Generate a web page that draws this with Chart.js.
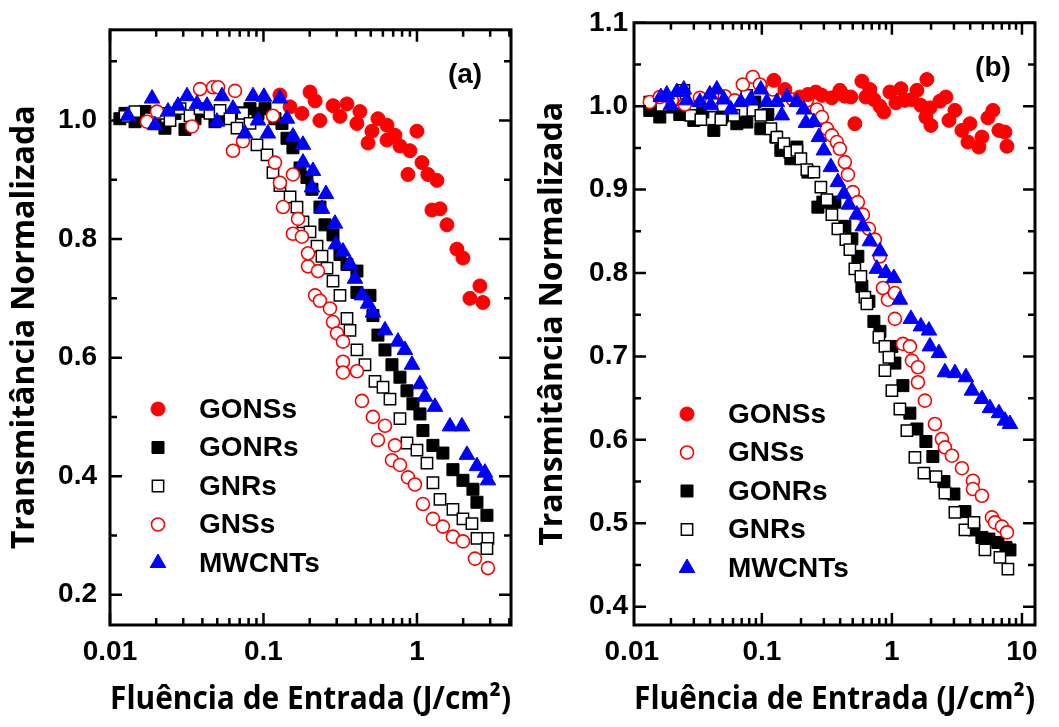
<!DOCTYPE html>
<html>
<head>
<meta charset="utf-8">
<script src="https://cdn.jsdelivr.net/npm/chart.js@4.4.1/dist/chart.umd.min.js"></script>
<style>
  body { margin: 0; background: #fff; }
  .panel { position: absolute; top: 0; height: 727px; }
</style>
</head>
<body>
<div class="panel" style="left:0;width:530px"><canvas id="chartA" width="530" height="727"></canvas></div>
<div class="panel" style="left:530px;width:529px"><canvas id="chartB" width="529" height="727"></canvas></div>
<script>
// painel (a): [fluência, transmitância]
const aGONSs = [[0.128,1.043],[0.149,1.023],[0.178,1.012],[0.201,1.048],[0.217,1.033],[0.233,1.0],[0.284,1.025],[0.315,1.007],[0.35,1.028],[0.406,0.995],[0.425,1.015],[0.48,0.962],[0.509,0.982],[0.557,1.003],[0.638,0.992],[0.638,0.967],[0.719,0.975],[0.775,0.957],[0.874,0.909],[0.9,0.949],[1.0,0.982],[1.078,0.929],[1.179,0.909],[1.252,0.849],[1.35,0.899],[1.413,0.851],[1.568,0.824],[1.822,0.783],[1.994,0.768],[2.214,0.7],[2.572,0.721],[2.69,0.693]];
const aGONRs = [[0.0116,1.003],[0.01253,1.012],[0.01456,0.998],[0.0169,1.015],[0.01964,0.995],[0.0228,0.987],[0.0265,1.012],[0.0308,0.985],[0.0358,1.003],[0.0416,1.015],[0.0483,0.998],[0.0561,1.007],[0.0703,1.013],[0.0817,1.02],[0.0921,1.012],[0.1023,1.02],[0.1188,1.003],[0.132,0.995],[0.1423,0.97],[0.1556,0.954],[0.173,0.92],[0.1919,0.904],[0.207,0.884],[0.2334,0.854],[0.2516,0.824],[0.2837,0.807],[0.315,0.774],[0.35,0.757],[0.4064,0.746],[0.4064,0.71],[0.494,0.705],[0.5167,0.671],[0.557,0.638],[0.619,0.613],[0.6874,0.588],[0.775,0.567],[0.861,0.544],[0.9418,0.522],[1.046,0.505],[1.094,0.477],[1.271,0.452],[1.476,0.439],[1.716,0.411],[1.994,0.393],[2.316,0.378],[2.46,0.356],[2.857,0.334]];
const aGNRs = [[0.01253,1.007],[0.01456,1.015],[0.01823,1.003],[0.0212,1.012],[0.0246,1.0],[0.0286,1.02],[0.0332,1.008],[0.0386,1.02],[0.0448,1.012],[0.0521,1.017],[0.0605,1.003],[0.0672,0.987],[0.0735,1.012],[0.0817,0.995],[0.0907,0.959],[0.1054,0.942],[0.1153,0.912],[0.128,0.89],[0.149,0.871],[0.1653,0.854],[0.1808,0.829],[0.201,0.812],[0.2233,0.788],[0.2405,0.771],[0.2594,0.751],[0.2837,0.729],[0.315,0.705],[0.35,0.666],[0.3662,0.646],[0.4064,0.613],[0.4585,0.588],[0.5325,0.56],[0.601,0.55],[0.6673,0.53],[0.775,0.497],[0.861,0.456],[1.0,0.444],[1.162,0.422],[1.271,0.389],[1.413,0.361],[1.716,0.344],[1.994,0.328],[2.282,0.32],[2.46,0.295],[2.901,0.295],[2.857,0.278]];
const aGNSs = [[0.01741,0.998],[0.02024,1.015],[0.0342,0.99],[0.0386,1.053],[0.0469,1.056],[0.0506,1.056],[0.0633,0.949],[0.0652,1.05],[0.0735,0.965],[0.1153,1.008],[0.1188,0.929],[0.128,0.895],[0.134,0.854],[0.1556,0.909],[0.1556,0.809],[0.1679,0.834],[0.178,0.804],[0.195,0.776],[0.195,0.754],[0.217,0.705],[0.2265,0.746],[0.2334,0.696],[0.2711,0.683],[0.2837,0.66],[0.3013,0.641],[0.3297,0.627],[0.3297,0.593],[0.3297,0.575],[0.4064,0.577],[0.4382,0.527],[0.5167,0.5],[0.557,0.461],[0.619,0.485],[0.6874,0.427],[0.719,0.452],[0.775,0.419],[0.874,0.398],[0.97,0.386],[1.094,0.353],[1.271,0.328],[1.476,0.315],[1.716,0.298],[1.994,0.29],[2.387,0.261],[2.901,0.245]];
const aMWCNTs = [[0.0131,1.008],[0.01879,1.037],[0.01964,0.992],[0.02387,1.015],[0.02773,1.025],[0.03176,1.041],[0.03689,1.028],[0.04285,1.025],[0.04977,0.998],[0.05366,1.041],[0.0633,1.02],[0.0757,0.978],[0.0855,1.041],[0.0921,1.0],[0.1007,1.04],[0.1069,0.978],[0.128,1.037],[0.1423,1.003],[0.1556,0.973],[0.1808,0.959],[0.1808,0.929],[0.2101,0.915],[0.207,0.887],[0.2554,0.876],[0.2405,0.851],[0.2923,0.826],[0.2966,0.791],[0.3297,0.779],[0.3662,0.758],[0.3945,0.733],[0.4382,0.705],[0.48,0.691],[0.5167,0.676],[0.619,0.646],[0.752,0.627],[0.835,0.613],[0.928,0.588],[1.046,0.555],[1.127,0.534],[1.31,0.517],[1.641,0.484],[1.963,0.484],[2.117,0.436],[2.46,0.417],[2.773,0.406],[2.901,0.393]];

// painel (b)
const bGONSs = [[0.1237,1.031],[0.1503,1.02],[0.1961,1.011],[0.2259,1.014],[0.2603,1.017],[0.2895,1.013],[0.3455,1.01],[0.3981,1.019],[0.4348,1.012],[0.4838,1.011],[0.5191,0.979],[0.5879,1.03],[0.631,1.011],[0.6771,1.02],[0.7271,1.008],[0.8087,1.0],[0.8679,0.993],[0.9651,1.017],[1.0734,1.004],[1.173,1.021],[1.259,1.007],[1.425,1.008],[1.557,1.019],[1.671,1.001],[1.858,1.032],[1.826,0.987],[1.96,0.998],[1.995,0.977],[2.339,1.006],[2.603,1.011],[2.745,0.983],[3.052,0.995],[3.455,0.971],[3.843,0.957],[3.981,0.979],[4.667,0.951],[4.922,0.963],[5.475,0.986],[5.98,0.995],[6.65,0.971],[7.4,0.969],[7.67,0.952]];
const bGNSs = [[0.01375,1.005],[0.01642,1.011],[0.02031,1.007],[0.02557,1.002],[0.03337,1.01],[0.04125,1.005],[0.05193,1.012],[0.062,1.007],[0.07142,1.026],[0.08528,1.035],[0.0966,1.026],[0.1215,1.02],[0.1503,1.014],[0.1732,1.008],[0.2219,1.007],[0.265,0.996],[0.2895,0.987],[0.3162,0.973],[0.3455,0.965],[0.3775,0.957],[0.3981,0.949],[0.4348,0.933],[0.4591,0.918],[0.5012,0.897],[0.5474,0.885],[0.5979,0.87],[0.6654,0.853],[0.74,0.84],[0.8087,0.82],[0.853,0.782],[0.9316,0.768],[1.0546,0.776],[1.0546,0.745],[1.215,0.715],[1.375,0.712],[1.425,0.695],[1.585,0.687],[1.585,0.669],[1.794,0.647],[2.142,0.619],[2.424,0.601],[2.557,0.591],[2.894,0.581],[3.455,0.566],[4.2,0.551],[4.2,0.541],[4.922,0.533],[5.875,0.507],[6.198,0.501],[7.02,0.496],[7.67,0.489]];
const bGONRs = [[0.01375,0.995],[0.01642,0.987],[0.0196,0.999],[0.0234,0.99],[0.02999,0.983],[0.03517,0.993],[0.04274,0.971],[0.04925,0.987],[0.06422,0.979],[0.07665,0.981],[0.08831,1.005],[0.09825,0.973],[0.1112,0.99],[0.1282,0.963],[0.14,0.947],[0.1671,0.937],[0.1859,0.951],[0.2259,0.921],[0.2698,0.879],[0.2946,0.885],[0.3644,0.885],[0.4348,0.856],[0.4923,0.841],[0.5474,0.82],[0.5879,0.784],[0.6654,0.766],[0.7271,0.742],[0.8087,0.73],[1.0,0.712],[1.0546,0.692],[1.215,0.665],[1.375,0.632],[1.557,0.613],[1.826,0.598],[2.066,0.58],[2.512,0.55],[2.998,0.535],[3.643,0.514],[4.273,0.492],[4.922,0.483],[5.572,0.481],[6.536,0.477],[7.534,0.471],[8.087,0.468]];
const bGNRs = [[0.01375,1.005],[0.01701,1.001],[0.02143,1.008],[0.02512,1.019],[0.02843,0.989],[0.03395,0.984],[0.04125,1.0],[0.0484,0.984],[0.06092,0.989],[0.07665,1.013],[0.08528,0.995],[0.09825,0.989],[0.1173,0.973],[0.1304,0.963],[0.1477,0.955],[0.1641,0.945],[0.1859,0.947],[0.1995,0.937],[0.2219,0.924],[0.2512,0.921],[0.2843,0.903],[0.3162,0.888],[0.3455,0.87],[0.3842,0.853],[0.4427,0.84],[0.4753,0.828],[0.5191,0.805],[0.5775,0.796],[0.6197,0.771],[0.6422,0.763],[0.7943,0.723],[0.8835,0.712],[0.9483,0.699],[0.8835,0.683],[1.0,0.659],[1.152,0.637],[1.304,0.611],[1.503,0.579],[1.763,0.56],[2.181,0.556],[2.557,0.536],[3.052,0.513],[3.643,0.492],[4.273,0.501],[5.193,0.468],[6.771,0.459],[7.8,0.445]];
const bMWCNTs = [[0.01671,1.011],[0.01859,1.014],[0.01995,1.001],[0.02219,1.017],[0.02512,1.02],[0.0265,1.007],[0.03337,1.005],[0.03981,1.014],[0.04052,1.001],[0.04506,1.02],[0.05101,1.008],[0.05777,0.996],[0.06895,1.005],[0.08228,1.008],[0.09825,1.02],[0.1093,1.005],[0.1304,1.005],[0.1425,0.989],[0.1557,1.011],[0.1859,1.005],[0.2104,0.996],[0.2181,0.98],[0.2512,0.981],[0.2745,0.963],[0.2998,0.947],[0.3395,0.927],[0.3842,0.909],[0.4274,0.895],[0.4669,0.882],[0.5379,0.87],[0.5979,0.856],[0.6771,0.838],[0.8087,0.826],[0.7667,0.805],[0.8992,0.8],[1.036,0.794],[1.152,0.768],[1.4,0.745],[1.671,0.736],[1.926,0.731],[1.96,0.712],[2.299,0.704],[2.557,0.681],[3.052,0.68],[3.71,0.675],[4.124,0.659],[4.922,0.649],[5.674,0.638],[6.654,0.632],[7.4,0.623],[8.087,0.619]];

const xTicksA = [0.01, 0.1, 1];
const xTicksB = [0.01, 0.1, 1, 10];
const yTicksA = [0.2, 0.4, 0.6, 0.8, 1.0];
const yTicksB = [0.4, 0.5, 0.6, 0.7, 0.8, 0.9, 1.0, 1.1];
const xTitle = "Fluência de Entrada (J/cm²)";
const yTitle = "Transmitância Normalizada";

const fonteNum = { family: "'Liberation Sans', Arial, sans-serif", size: 28, weight: "bold" };
const fonteTit = { family: "'Open Sans', Lato, sans-serif", size: 32, weight: "bold" };

// aparência de cada série (order: menor fica por cima)
const estilos = {
  GONSs: { pointStyle: "circle", pointRadius: 7, pointBackgroundColor: "#ff0000", pointBorderColor: "#ff0000", pointBorderWidth: 1, order: 1 },
  GNSs: { pointStyle: "circle", pointRadius: 6.5, pointBackgroundColor: "#ffffff", pointBorderColor: "#ff0000", pointBorderWidth: 1.6, order: 2 },
  GONRs: { pointStyle: "rect", pointRadius: 8.5, pointBackgroundColor: "#000000", pointBorderColor: "#000000", pointBorderWidth: 1, order: 4 },
  GNRs: { pointStyle: "rect", pointRadius: 8, pointBackgroundColor: "#ffffff", pointBorderColor: "#000000", pointBorderWidth: 1.5, order: 3 },
  MWCNTs: { pointStyle: "triangle", pointRadius: 9, pointBackgroundColor: "#0000ff", pointBorderColor: "#0000ff", pointBorderWidth: 1, order: 0 },
};

// moldura, marcas internas, letra do painel e legenda
const moldura = {
  id: "moldura",
  afterDatasetsDraw(chart, args, opts) {
    const { ctx, chartArea: a } = chart;
    const x = chart.scales.x, y = chart.scales.y;
    ctx.save();
    ctx.strokeStyle = "#000";
    ctx.lineWidth = 2.5;
    ctx.beginPath();
    const d0 = Math.floor(Math.log10(x.min)), d1 = Math.ceil(Math.log10(x.max));
    for (let d = d0; d <= d1; d++) {
      for (let m = 1; m <= 9; m++) {
        const v = m * Math.pow(10, d);
        if (v < x.min * 0.999 || v > x.max * 1.001) continue;
        const px = x.getPixelForValue(v);
        const len = m === 1 ? 12 : 7;
        ctx.moveTo(px, a.bottom); ctx.lineTo(px, a.bottom - len);
        ctx.moveTo(px, a.top); ctx.lineTo(px, a.top + len);
      }
    }
    const step = opts.yMinor;
    for (let k = Math.ceil(y.min / step - 1e-6); k * step <= y.max + 1e-6; k++) {
      const v = k * step;
      const py = y.getPixelForValue(v);
      const major = opts.yMajor.some((t) => Math.abs(t - v) < 1e-6);
      const len = major ? 12 : 7;
      ctx.moveTo(a.left, py); ctx.lineTo(a.left + len, py);
      ctx.moveTo(a.right, py); ctx.lineTo(a.right - len, py);
    }
    ctx.stroke();
    ctx.lineWidth = 3;
    ctx.strokeRect(a.left, a.top, a.right - a.left, a.bottom - a.top);

    ctx.fillStyle = "#000";
    ctx.font = "bold 28px 'Liberation Sans', Arial, sans-serif";
    ctx.textAlign = "center";
    ctx.textBaseline = "middle";
    ctx.fillText(opts.letra, a.right - opts.letraDx, a.top + 45);

    // legenda
    ctx.textAlign = "left";
    chart.data.datasets.forEach((ds, i) => {
      const ly = opts.legY + i * opts.legDy;
      ctx.fillStyle = ds.pointBackgroundColor;
      ctx.strokeStyle = ds.pointBorderColor;
      ctx.lineWidth = ds.pointBorderWidth;
      Chart.helpers.drawPoint(ctx, { pointStyle: ds.pointStyle, radius: ds.pointRadius, borderWidth: ds.pointBorderWidth, rotation: 0 }, opts.legX, ly);
      ctx.fillStyle = "#000";
      ctx.fillText(ds.label, opts.legTextX, ly + 1);
    });
    ctx.restore();
  },
};

function criarGrafico(id, series, cfg) {
  return new Chart(document.getElementById(id), {
    type: "scatter",
    data: {
      datasets: series.map(([nome, pts]) => ({
        label: nome,
        data: pts.map((p) => ({ x: p[0], y: p[1] })),
        showLine: false,
        ...estilos[nome],
      })),
    },
    options: {
      responsive: false,
      animation: false,
      events: [],
      layout: { padding: { top: 20, right: cfg.padRight, left: 0, bottom: 0 } },
      plugins: {
        legend: { display: false },
        tooltip: { enabled: false },
        moldura: cfg.moldura,
      },
      scales: {
        x: {
          type: "logarithmic",
          min: cfg.xMin,
          max: cfg.xMax,
          afterBuildTicks: (s) => { s.ticks = cfg.xTicks.map((v) => ({ value: v })); },
          afterFit: (s) => { s.height = 102; },
          ticks: { autoSkip: false, maxRotation: 0, padding: 10, color: "#000", font: fonteNum, callback: (v) => String(v) },
          grid: { display: false, drawTicks: false },
          border: { display: false },
          title: { display: true, text: xTitle, color: "#000", font: fonteTit, padding: { top: 0, bottom: 8 } },
        },
        y: {
          min: cfg.yMin,
          max: cfg.yMax,
          afterBuildTicks: (s) => { s.ticks = cfg.yTicks.map((v) => ({ value: v })); },
          afterFit: (s) => { s.width = cfg.yWidth; },
          ticks: { padding: cfg.yPad, color: "#000", font: fonteNum, callback: (v) => v.toFixed(1) },
          grid: { display: false, drawTicks: false },
          border: { display: false },
          title: { display: true, text: yTitle, color: "#000", font: fonteTit, padding: { top: cfg.yTitlePad, bottom: 0 } },
        },
      },
    },
    plugins: [moldura],
  });
}

criarGrafico("chartA",
  [["GONSs", aGONSs], ["GONRs", aGONRs], ["GNRs", aGNRs], ["GNSs", aGNSs], ["MWCNTs", aMWCNTs]],
  {
    xMin: 0.01, xMax: 4.1, yMin: 0.149, yMax: 1.153,
    xTicks: xTicksA, yTicks: yTicksA,
    padRight: 19, yWidth: 110, yPad: 13, yTitlePad: 6,
    moldura: { yMinor: 0.1, yMajor: yTicksA, letra: "(a)", letraDx: 46, legX: 158, legTextX: 199, legY: 409, legDy: 38.5 },
  });

criarGrafico("chartB",
  [["GONSs", bGONSs], ["GNSs", bGNSs], ["GONRs", bGONRs], ["GNRs", bGNRs], ["MWCNTs", bMWCNTs]],
  {
    xMin: 0.0104, xMax: 12.6, yMin: 0.378, yMax: 1.1,
    xTicks: xTicksB, yTicks: yTicksB,
    padRight: 24, yWidth: 104, yPad: 6, yTitlePad: 4,
    moldura: { yMinor: 0.05, yMajor: yTicksB, letra: "(b)", letraDx: 42, legX: 157, legTextX: 198, legY: 414, legDy: 38.5 },
  });
</script>
</body>
</html>
